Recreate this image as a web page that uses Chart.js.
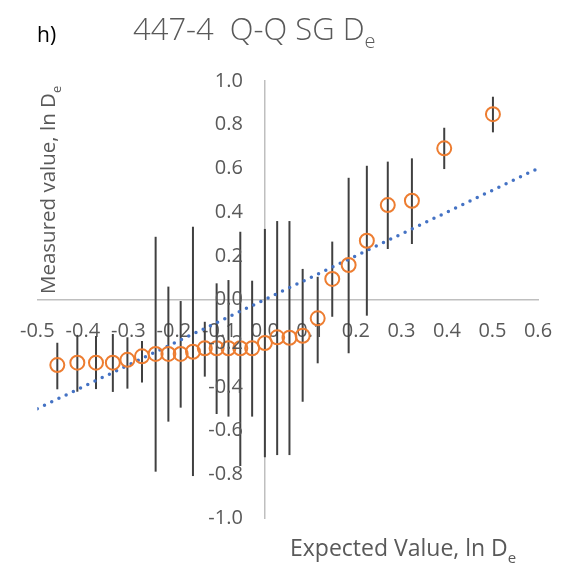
<!DOCTYPE html>
<html lang="en">
<head>
<meta charset="UTF-8">
<title>447-4 Q-Q SG De</title>
<script src="https://cdn.jsdelivr.net/npm/chart.js"></script>
<style>
  html, body { margin: 0; padding: 0; background: #fff; }
  #wrap { width: 576px; height: 576px; }
</style>
</head>
<body>
<div id="wrap"><canvas id="qq" width="576" height="576"></canvas></div>
<script>
  // expected quantile (x) vs measured ln De (y), with error bar ends
  const expected = [-0.456, -0.412, -0.371, -0.334, -0.302, -0.270, -0.240, -0.212, -0.185, -0.158,
                    -0.132, -0.106, -0.080, -0.054, -0.028, 0.000, 0.027, 0.054, 0.083, 0.116,
                    0.148, 0.184, 0.224, 0.270, 0.323, 0.394, 0.501];
  const measured = [-0.300, -0.289, -0.289, -0.289, -0.276, -0.260, -0.249, -0.249, -0.249, -0.239,
                    -0.223, -0.223, -0.223, -0.223, -0.223, -0.199, -0.173, -0.175, -0.166, -0.086,
                    0.094, 0.158, 0.269, 0.432, 0.452, 0.692, 0.848];
  const errHigh = [-0.198, -0.162, -0.167, -0.158, -0.173, -0.190, 0.287, 0.059, -0.007, 0.333,
                   -0.102, 0.074, 0.089, 0.310, 0.086, 0.323, 0.359, 0.359, 0.140, 0.104,
                   0.265, 0.557, 0.612, 0.631, 0.646, 0.786, 0.928];
  const errLow = [-0.411, -0.422, -0.410, -0.423, -0.408, -0.380, -0.788, -0.559, -0.495, -0.808,
                  -0.353, -0.524, -0.536, -0.762, -0.536, -0.722, -0.712, -0.712, -0.468, -0.292,
                  -0.079, -0.246, -0.074, 0.231, 0.254, 0.597, 0.765];

  // 1:1 line ends
  const refX = [-0.5, 0.6];
  const refY = [-0.5, 0.6];

  const xTicks = [-0.5, -0.4, -0.3, -0.2, -0.1, 0.0, 0.1, 0.2, 0.3, 0.4, 0.5, 0.6];
  const yTicks = [-1.0, -0.8, -0.6, -0.4, -0.2, 0.0, 0.2, 0.4, 0.6, 0.8, 1.0];

  const FONT = "'Open Sans', 'DejaVu Sans', sans-serif";
  const GREY = '#595959';

  // text + subscript helper
  function subText(ctx, main, sub, x, y, size) {
    ctx.font = size + 'px ' + FONT;
    ctx.fillText(main, x, y);
    const w = ctx.measureText(main).width;
    ctx.font = Math.round(size * 0.65) + 'px ' + FONT;
    ctx.fillText(sub, x + w, y + size * 0.3);
  }

  const errorBars = {
    id: 'errorBars',
    beforeDatasetsDraw(chart) {
      const { ctx, scales: { x, y } } = chart;
      ctx.save();
      ctx.strokeStyle = '#404040';
      ctx.lineWidth = 2;
      expected.forEach((v, i) => {
        const px = x.getPixelForValue(v);
        ctx.beginPath();
        ctx.moveTo(px, y.getPixelForValue(errLow[i]));
        ctx.lineTo(px, y.getPixelForValue(errHigh[i]));
        ctx.stroke();
      });
      ctx.restore();
    }
  };

  // y tick labels sit left of the y axis (chart.js ignores padding for axes placed at a value)
  const yLabels = {
    id: 'yLabels',
    afterDraw(chart) {
      const { ctx, scales: { x, y } } = chart;
      const ax = x.getPixelForValue(0);
      ctx.save();
      ctx.fillStyle = GREY;
      ctx.font = '20px ' + FONT;
      ctx.textAlign = 'right';
      ctx.textBaseline = 'middle';
      yTicks.forEach(v => ctx.fillText(v.toFixed(1), ax - 22, y.getPixelForValue(v)));
      ctx.restore();
    }
  };

  const labels = {
    id: 'labels',
    afterDraw(chart) {
      const ctx = chart.ctx;
      ctx.save();
      ctx.textBaseline = 'alphabetic';
      ctx.textAlign = 'left';

      ctx.fillStyle = '#000';
      ctx.font = '21px ' + FONT;
      ctx.fillText('h)', 37, 42);

      ctx.fillStyle = GREY;
      ctx.font = '300 31px ' + FONT;
      ctx.fillText('447-4  Q-Q SG D', 133, 40);
      const tw = ctx.measureText('447-4  Q-Q SG D').width;
      ctx.font = '300 20px ' + FONT;
      ctx.fillText('e', 133 + tw, 48);

      subText(ctx, 'Expected Value, ln D', 'e', 290, 556, 23);

      ctx.translate(55, 294);
      ctx.rotate(-Math.PI / 2);
      subText(ctx, 'Measured value, ln D', 'e', 0, 0, 20.5);
      ctx.restore();
    }
  };

  new Chart(document.getElementById('qq'), {
    type: 'scatter',
    data: {
      datasets: [
        {
          label: 'ln De',
          data: expected.map((v, i) => ({ x: v, y: measured[i] })),
          pointStyle: 'circle',
          pointRadius: 7,
          pointBorderWidth: 2,
          pointBorderColor: '#ED7D31',
          pointBackgroundColor: 'rgba(0,0,0,0)',
          showLine: false,
          order: 1
        },
        {
          label: '1:1',
          data: refX.map((v, i) => ({ x: v, y: refY[i] })),
          showLine: true,
          pointRadius: 0,
          borderColor: '#4472C4',
          borderWidth: 3.5,
          borderDash: [0, 8],
          borderCapStyle: 'round',
          order: 2
        }
      ]
    },
    options: {
      responsive: false,
      animation: false,
      devicePixelRatio: 1,
      layout: { padding: { left: 33, top: 81, right: 38, bottom: 58 } },
      plugins: { legend: { display: false }, tooltip: { enabled: false } },
      scales: {
        x: {
          type: 'linear',
          min: -0.5,
          max: 0.6,
          position: { y: 0 },
          afterBuildTicks: s => { s.ticks = xTicks.map(v => ({ value: v })); },
          grid: { display: false, drawTicks: false },
          border: { display: true, color: '#BFBFBF', width: 1.5 },
          ticks: {
            color: GREY,
            font: { family: FONT, size: 20 },
            padding: 20,
            maxRotation: 0,
            autoSkip: false,
            callback: v => v.toFixed(1)
          }
        },
        y: {
          type: 'linear',
          min: -1.0,
          max: 1.0,
          position: { x: 0 },
          afterBuildTicks: s => { s.ticks = yTicks.map(v => ({ value: v })); },
          grid: { display: false, drawTicks: false },
          border: { display: true, color: '#BFBFBF', width: 1.5 },
          ticks: { display: false }
        }
      }
    },
    plugins: [errorBars, yLabels, labels]
  });
</script>
</body>
</html>
